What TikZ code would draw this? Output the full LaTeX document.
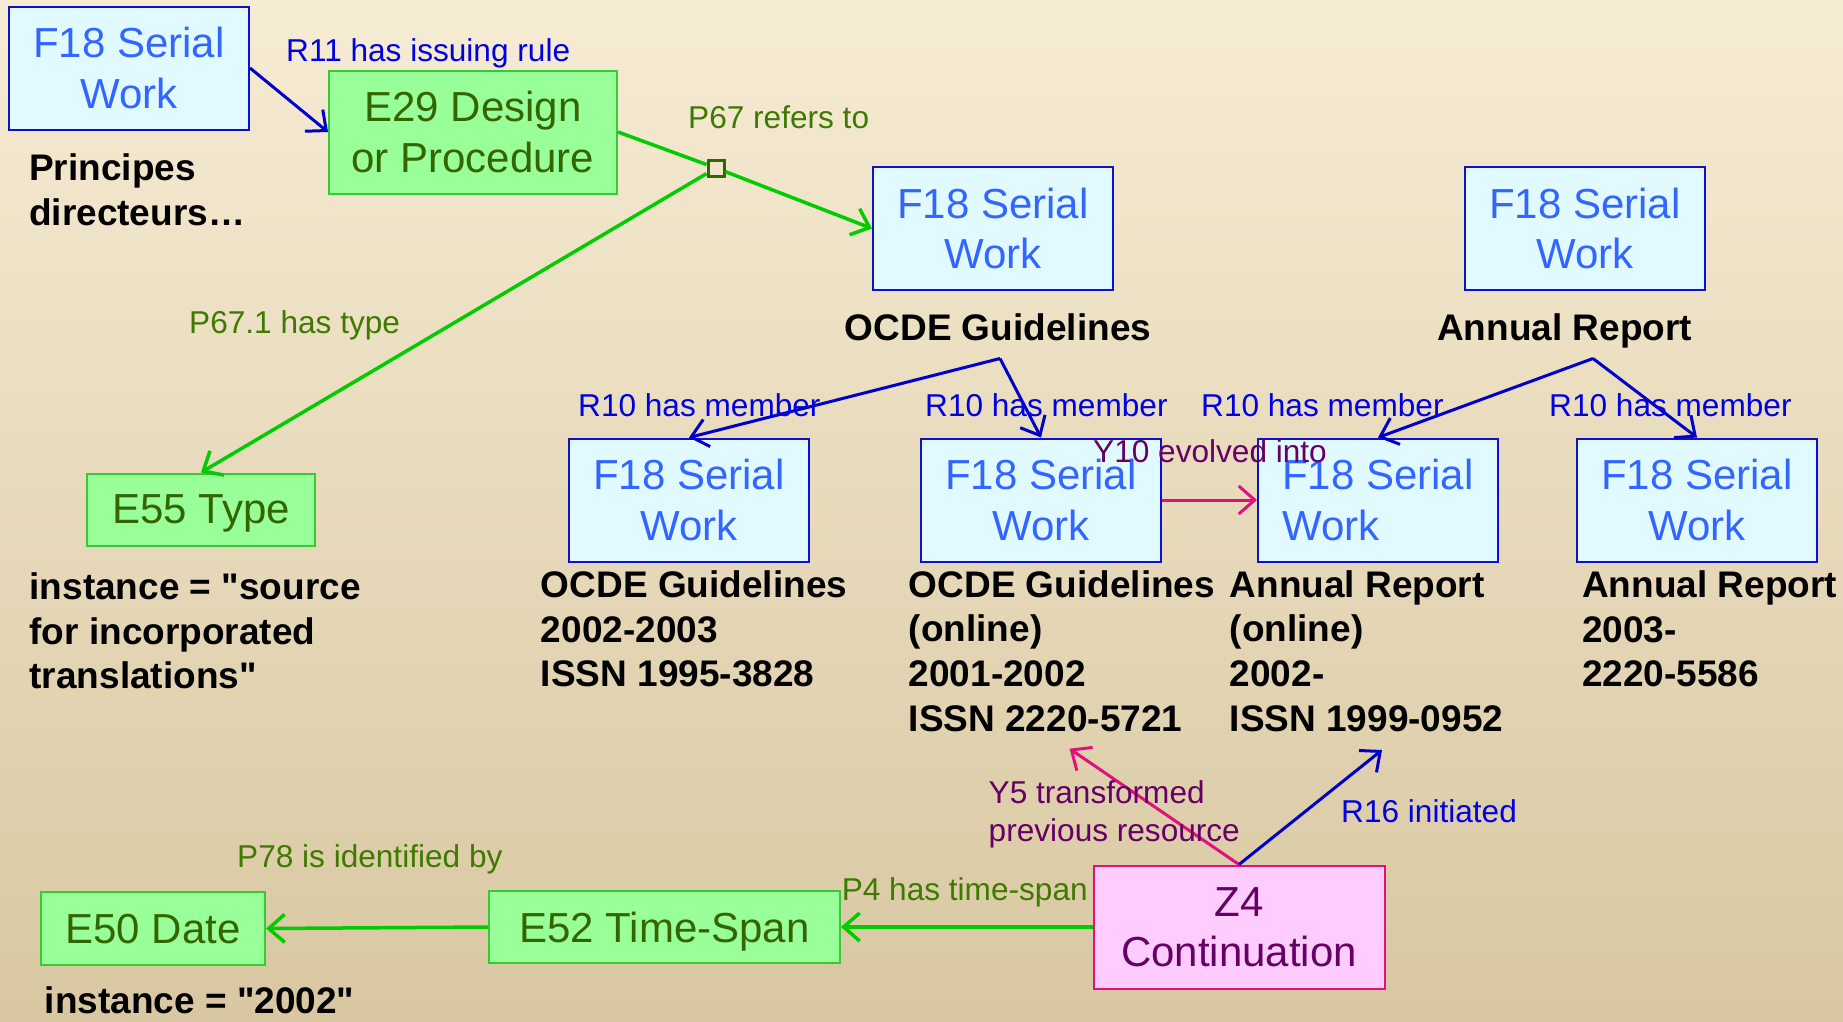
\documentclass[tikz,border=0pt]{standalone}
\usepackage{fontspec}
\setmainfont{Liberation Sans}[Ligatures=TeXOff]
\usetikzlibrary{arrows.meta}
\definecolor{bgtop}{HTML}{F6ECD4}
\definecolor{bgbot}{HTML}{D8C7A1}
\definecolor{fillcyan}{HTML}{E0FAFF}
\definecolor{f18border}{HTML}{1010CC}
\definecolor{f18text}{HTML}{3366FF}
\definecolor{relblue}{HTML}{0000E0}
\definecolor{arrowblue}{HTML}{0000C8}
\definecolor{greenfill}{HTML}{99FF99}
\definecolor{greenborder}{HTML}{33CC33}
\definecolor{greentext}{HTML}{336600}
\definecolor{greenline}{HTML}{00CC00}
\definecolor{greenlabel}{HTML}{3F7A00}
\definecolor{pinkfill}{HTML}{FFCCFF}
\definecolor{pinkborder}{HTML}{E0107F}
\definecolor{magline}{HTML}{E0107F}
\definecolor{purpletext}{HTML}{660066}
\newcommand{\myboxfont}{\fontsize{42}{50.5}\selectfont}
\newcommand{\mylabfont}{\fontsize{37}{44.7}\selectfont\bfseries}
\newcommand{\myrelfont}{\fontsize{31.6}{37.7}\selectfont}
\tikzset{
  basebox/.style={minimum width=240pt, minimum height=123pt, inner sep=0pt, align=center, font=\myboxfont, line width=2pt},
  f18/.style={basebox, draw=f18border, fill=fillcyan, text=f18text},
  ebox/.style={basebox, draw=greenborder, fill=greenfill, text=greentext},
  zbox/.style={basebox, draw=pinkborder, fill=pinkfill, text=purpletext},
  bl/.style={anchor=west, inner sep=0pt, align=left, font=\mylabfont, text=black},
  rel/.style={anchor=west, inner sep=0pt, align=left, font=\myrelfont},
  relb/.style={rel, text=relblue},
  relg/.style={rel, text=greenlabel},
  relp/.style={rel, text=purpletext},
  tip/.style={-{Straight Barb[length=16pt,width=28pt]}},
  bluearr/.style={draw=arrowblue, line width=3pt, tip},
  greenarr/.style={draw=greenline, line width=3.5pt, tip},
  greenln/.style={draw=greenline, line width=3.5pt},
  magarr/.style={draw=magline, line width=3pt, tip},
}
\begin{document}
\begin{tikzpicture}[x=1pt, y=-1pt]
\shade[top color=bgtop, bottom color=bgbot] (0,0) rectangle (1843,1021);
\useasboundingbox (0,0) rectangle (1843,1021);

% boxes
\node[f18] (f18a) at (129,68) {F18 Serial\\Work};
\node[ebox, minimum width=288pt] (e29) at (473,132) {E29 Design\\or Procedure};
\node[f18] (f18o) at (993,228.5) {F18 Serial\\Work};
\node[f18] (f18r) at (1585,228.5) {F18 Serial\\Work};
\node[f18] (ba) at (689,500) {F18 Serial\\Work};
\node[f18] (bb) at (1041,500) {F18 Serial\\Work};
\node[f18, align=left] (bc) at (1378,500) {F18 Serial\\Work};
\node[f18] (bd) at (1697,500) {F18 Serial\\Work};
\node[ebox, minimum width=228pt, minimum height=72pt, text depth=0pt] (e55) at (201,509.5) {E55 Type};
\node[ebox, minimum width=224pt, minimum height=73pt, text depth=0pt] (e50) at (153,928.5) {E50 Date};
\node[ebox, minimum width=351pt, minimum height=72pt, text depth=0pt] (e52) at (664.5,927) {E52 Time-Span};
\node[zbox, minimum width=291pt] (z4) at (1239,927) {Z4\\Continuation};
\node[draw=greentext, line width=3pt, minimum size=16pt, inner sep=0pt] (sq) at (716,168) {};

% bold labels
\node[bl] (lprin) at (29,189.5) {Principes\\directeurs…};
\node[bl, anchor=center] (locde) at (998,327) {OCDE Guidelines};
\node[bl, anchor=center] (lar) at (1564.5,330.5) {Annual Report};
\node[bl] (la) at (540.7,629) {OCDE Guidelines\\2002-2003\\ISSN 1995-3828};
\node[bl] (lb) at (908.6,651) {OCDE Guidelines\\(online)\\2001-2002\\ISSN 2220-5721};
\node[bl] (lc) at (1229.5,651) {Annual Report\\(online)\\2002-\\ISSN 1999-0952};
\node[bl] (ld) at (1582,629) {Annual Report\\2003-\\2220-5586};
\node[bl] (le55) at (29.4,631) {instance = "source\\for incorporated\\translations"};
\node[bl] (le50) at (44.7,1000) {instance = "2002"};

% apex coordinates and free ends
\coordinate (apo) at (1000,358.5);
\coordinate (apr) at (1593,358.5);
\coordinate (y5end) at (1069.6,748.7);
\coordinate (r16end) at (1382,750);

% connectors
\draw[bluearr] (f18a.east) -- (e29.west);
\draw[greenln] (e29.east) -- (sq);
\draw[greenarr] (sq) -- (f18o.west);
\draw[greenarr] (sq) -- (e55.north);
\draw[bluearr] (apo) -- (ba.north);
\draw[bluearr] (apo) -- (bb.north);
\draw[bluearr] (apr) -- (bc.north);
\draw[bluearr] (apr) -- (bd.north);
\draw[magarr] (bb.east) -- (bc.west);
\draw[greenarr] (z4.west) -- (e52.east);
\draw[greenarr] (e52.west) -- (e50.east);
\draw[magarr] (z4.north) -- (y5end);
\draw[bluearr] (z4.north) -- (r16end);

% relation labels
\node[relb] (r11) at (286,53) {R11 has issuing rule};
\node[relg] (p67) at (688,117.5) {P67 refers to};
\node[relg] (p671) at (189,325.6) {P67.1 has type};
\node[relb] (r10a) at (578,405.5) {R10 has member};
\node[relb] (r10b) at (925,405.5) {R10 has member};
\node[relb] (r10c) at (1201,405.5) {R10 has member};
\node[relb] (r10d) at (1549,405.5) {R10 has member};
\node[relp] (y10) at (1093,451) {Y10 evolved into};
\node[relp] (y5) at (988.5,814.5) {Y5 transformed\\previous resource};
\node[relb] (r16) at (1341,811) {R16 initiated};
\node[relg] (p4) at (841.6,892) {P4 has time-span};
\node[relg] (p78) at (237,859) {P78 is identified by};
\end{tikzpicture}
\end{document}
